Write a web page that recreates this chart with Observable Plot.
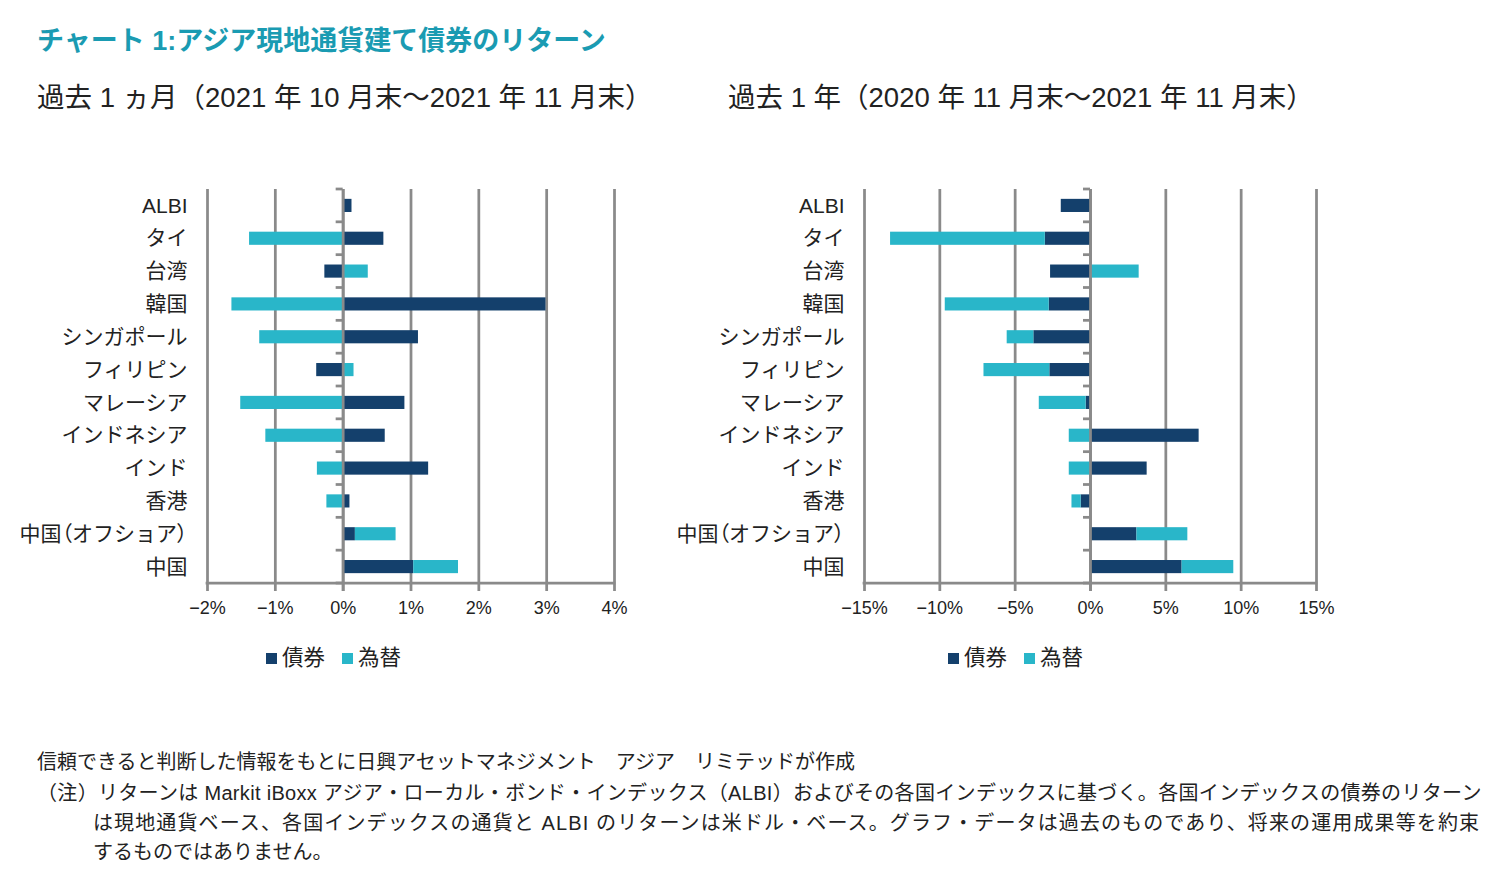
<!DOCTYPE html>
<html lang="ja">
<head>
<meta charset="utf-8">
<script src="https://cdn.jsdelivr.net/npm/d3@7"></script>
<script src="https://cdn.jsdelivr.net/npm/@observablehq/plot@0.6"></script>
<style>
  html, body { margin: 0; padding: 0; background: #fff; }
  body { width: 1506px; height: 884px; position: relative; overflow: hidden;
         font-family: "Liberation Sans", "Noto Sans CJK JP", sans-serif; color: #222; }
  .abs { position: absolute; white-space: nowrap; line-height: 1; }
  #title { left: 37px; top: 28px; font-size: 27px; font-weight: bold; color: #1a9bb2; }
  .sub { top: 84px; font-size: 27.5px; color: #222; }
  .legend { top: 647px; display: flex; align-items: center; font-size: 21.5px; line-height: 22px; }
  .legend .sw { width: 11px; height: 11px; display: inline-block; margin-right: 5px; }
  .legend .item { display: flex; align-items: center; margin-right: 17px; }
  .note { left: 37px; font-size: 20px; color: #222; }
  #left, #right { position: absolute; top: 150px; }
  #left { left: 0px; } #right { left: 657px; }
</style>
</head>
<body>
<div id="title" class="abs">チャート 1:アジア現地通貨建て債券のリターン</div>
<div id="subL" class="abs sub" style="left:37px">過去 1 ヵ月（2021 年 10 月末～2021 年 11 月末）</div>
<div id="subR" class="abs sub" style="left:728px">過去 1 年（2020 年 11 月末～2021 年 11 月末）</div>
<div id="left"></div>
<div id="right"></div>
<div id="legL" class="abs legend" style="left:266px"></div>
<div id="legR" class="abs legend" style="left:948px"></div>
<div class="abs note" style="top:752px">信頼できると判断した情報をもとに日興アセットマネジメント　アジア　リミテッドが作成</div>
<div class="abs note" style="top:783px; letter-spacing:0.32px">（注）リターンは Markit iBoxx アジア・ローカル・ボンド・インデックス（ALBI）およびその各国インデックスに基づく。各国インデックスの債券のリターン</div>
<div class="abs note" style="top:813px; left:93px; letter-spacing:1.12px">は現地通貨ベース、各国インデックスの通貨と ALBI のリターンは米ドル・ベース。グラフ・データは過去のものであり、将来の運用成果等を約束</div>
<div class="abs note" style="top:842px; left:93px">するものではありません。</div>
<script>
// ---- data ----
const categories = ["ALBI","タイ","台湾","韓国","シンガポール","フィリピン","マレーシア","インドネシア","インド","香港","中国（オフショア）","中国"];
const seriesNames = ["債券","為替"];
const seriesColors = ["#14406c","#29b6c9"];

// 過去1ヵ月 (%)
const monthBond = [0.13, 0.60, -0.27, 2.99, 1.11, -0.39, 0.91, 0.62, 1.26, 0.10, 0.18, 1.04];
const monthFx   = [0.00, -1.38, 0.37, -1.64, -1.23, 0.16, -1.51, -1.14, -0.38, -0.24, 0.60, 0.66];
const monthTicks = [-2, -1, 0, 1, 2, 3, 4];

// 過去1年 (%)
const yearBond = [-1.94, -3.00, -2.65, -2.74, -3.76, -2.70, -0.29, 7.21, 3.76, -0.62, 3.08, 6.08];
const yearFx   = [0.00, -10.27, 3.23, -6.90, -1.77, -4.37, -3.11, -1.41, -1.41, -0.61, 3.38, 3.43];
const yearTicks = [-15, -10, -5, 0, 5, 10, 15];

// ---- helpers ----
const GRID = "#8a8a8a";
const GW = 2.75;
const fmt = d => d === 0 ? "0%" : (d < 0 ? "−" : "") + Math.abs(d) + "%";

function rowsOf(bond, fx) {
  const rows = [];
  categories.forEach((c, i) => {
    rows.push({cat: c, type: seriesNames[0], value: bond[i]});
    rows.push({cat: c, type: seriesNames[1], value: fx[i]});
  });
  return rows;
}

// zero-axis category ticks + bottom axis line
function axisDecor(n) {
  return (index, scales, values, dims) => {
    const g = d3.create("svg:g").attr("stroke", GRID).attr("stroke-width", GW);
    const top = dims.marginTop, bottom = dims.height - dims.marginBottom;
    const left = dims.marginLeft, right = dims.width - dims.marginRight;
    const x0 = scales.x(0);
    const step = (bottom - top) / n;
    g.append("line").attr("x1", left - GW / 2).attr("x2", right + GW / 2).attr("y1", bottom).attr("y2", bottom);
    for (let k = 0; k <= n; k++) {
      const yy = top + k * step;
      g.append("line").attr("x1", x0 - 7).attr("x2", x0).attr("y1", yy).attr("y2", yy);
    }
    return g.node();
  };
}

// proportional (half-width) full-width parentheses in axis labels
function tightenParens(svg) {
  const ns = "http://www.w3.org/2000/svg";
  svg.querySelectorAll("text").forEach(t => {
    const s = t.textContent;
    if (!/[（）]/.test(s)) return;
    while (t.firstChild) t.removeChild(t.firstChild);
    s.split(/([（）])/).forEach(part => {
      if (!part) return;
      const ts = document.createElementNS(ns, "tspan");
      ts.textContent = part;
      if (/[（）]/.test(part)) ts.setAttribute("style", "font-feature-settings: 'palt'");
      t.appendChild(ts);
    });
  });
  return svg;
}

function chart(bond, fx, domain, ticks, width, marginRight) {
  const rows = rowsOf(bond, fx);
  const svg = Plot.plot({
    width, height: 473,
    marginLeft: 207, marginRight, marginTop: 39, marginBottom: 40,
    style: {fontFamily: '"Liberation Sans", "Noto Sans CJK JP", sans-serif', fontSize: "18px", color: "#222", background: "transparent", overflow: "visible"},
    x: {domain, ticks, tickFormat: fmt, label: null, axis: null},
    y: {domain: categories, paddingInner: 0.6, paddingOuter: 0.3, round: false, label: null, axis: null},
    color: {domain: seriesNames, range: seriesColors},
    marks: [
      Plot.ruleX(ticks, {stroke: GRID, strokeWidth: GW, insetBottom: -8}),
      Plot.barX(rows, Plot.stackX({x: "value", y: "cat", fill: "type"})),
      Plot.ruleX([0], {stroke: GRID, strokeWidth: GW, insetBottom: -8}),
      axisDecor(categories.length),
      Plot.axisX(ticks, {tickSize: 0, tickPadding: 18, tickFormat: fmt, fontSize: 18, fill: "#222", label: null}),
      Plot.axisY(categories, {tickSize: 0, tickPadding: 20, fontSize: 21, fill: "#222", label: null})
    ]
  });
  return tightenParens(svg);
}

document.getElementById("left").append(chart(monthBond, monthFx, [-2, 4], monthTicks, 657, 43));
document.getElementById("right").append(chart(yearBond, yearFx, [-15, 15], yearTicks, 699, 40));

function legend(el) {
  seriesNames.forEach((n, i) => {
    const item = document.createElement("span");
    item.className = "item";
    const sw = document.createElement("span");
    sw.className = "sw";
    sw.style.background = seriesColors[i];
    item.append(sw, document.createTextNode(n));
    el.append(item);
  });
}
legend(document.getElementById("legL"));
legend(document.getElementById("legR"));
</script>
</body>
</html>
